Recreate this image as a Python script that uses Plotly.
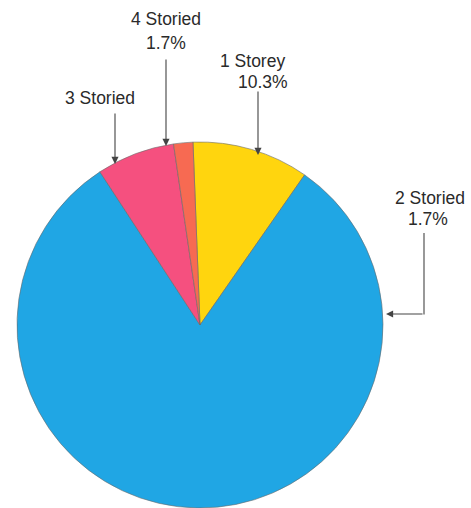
import plotly.graph_objects as go

W, H = 471, 508

# Data
labels = ["1 Storey", "2 Storied", "3 Storied", "4 Storied"]
values = [10.3, 81.1, 6.9, 1.7]
colors = ["#FFD50E", "#20A6E4", "#F5507F", "#F76A52"]
label_texts = {
    "1 Storey": ["1 Storey", "10.3%"],
    "2 Storied": ["2 Storied", "1.7%"],
    "3 Storied": ["3 Storied"],
    "4 Storied": ["4 Storied", "1.7%"],
}

def px(x):
    return x / W

def py(y):
    return 1 - y / H

cx, cy, r = 200, 325, 183

fig = go.Figure(go.Pie(
    labels=labels,
    values=values,
    marker=dict(colors=colors, line=dict(color="#6a6a6a", width=0.6)),
    sort=False,
    direction="clockwise",
    rotation=-2.2,
    textinfo="none",
    hoverinfo="label+percent",
    showlegend=False,
    domain=dict(x=[px(cx - r), px(cx + r)], y=[py(cy + r), py(cy - r)]),
))

font = dict(family="Liberation Sans, Arial, sans-serif", size=17.5, color="#2a2a2a")
annotations = []

def text(x, y, s):
    annotations.append(dict(x=px(x), y=py(y), xref="paper", yref="paper",
                            text=s, showarrow=False, font=font,
                            xanchor="center", yanchor="middle"))

def arrow(x0, y0, x1, y1):
    annotations.append(dict(x=px(x1), y=py(y1), xref="paper", yref="paper",
                            ax=x0 - x1, ay=y0 - y1, text="", showarrow=True,
                            arrowhead=2, arrowsize=1.3, arrowwidth=1.1,
                            arrowcolor="#444444"))

# 4 Storied
text(166, 19, label_texts["4 Storied"][0])
text(166, 43, label_texts["4 Storied"][1])
arrow(166, 58, 166, 146)
# 1 Storey
text(252, 61, label_texts["1 Storey"][0])
text(263, 82, label_texts["1 Storey"][1])
arrow(258, 90, 258, 155)
# 3 Storied
text(100, 98, label_texts["3 Storied"][0])
arrow(115, 112, 115, 164)
# 2 Storied
text(430, 198, label_texts["2 Storied"][0])
text(428, 219, label_texts["2 Storied"][1])
arrow(424, 314, 386, 314)

shapes = [dict(type="line", xref="paper", yref="paper",
               x0=px(424), y0=py(233), x1=px(424), y1=py(314.5),
               line=dict(color="#444444", width=1.1))]

fig.update_layout(
    width=W, height=H,
    margin=dict(l=0, r=0, t=0, b=0),
    paper_bgcolor="white", plot_bgcolor="white",
    annotations=annotations, shapes=shapes,
)

fig.write_html("out.html", config={"displayModeBar": False},
               post_script="document.body.style.margin='0';")
